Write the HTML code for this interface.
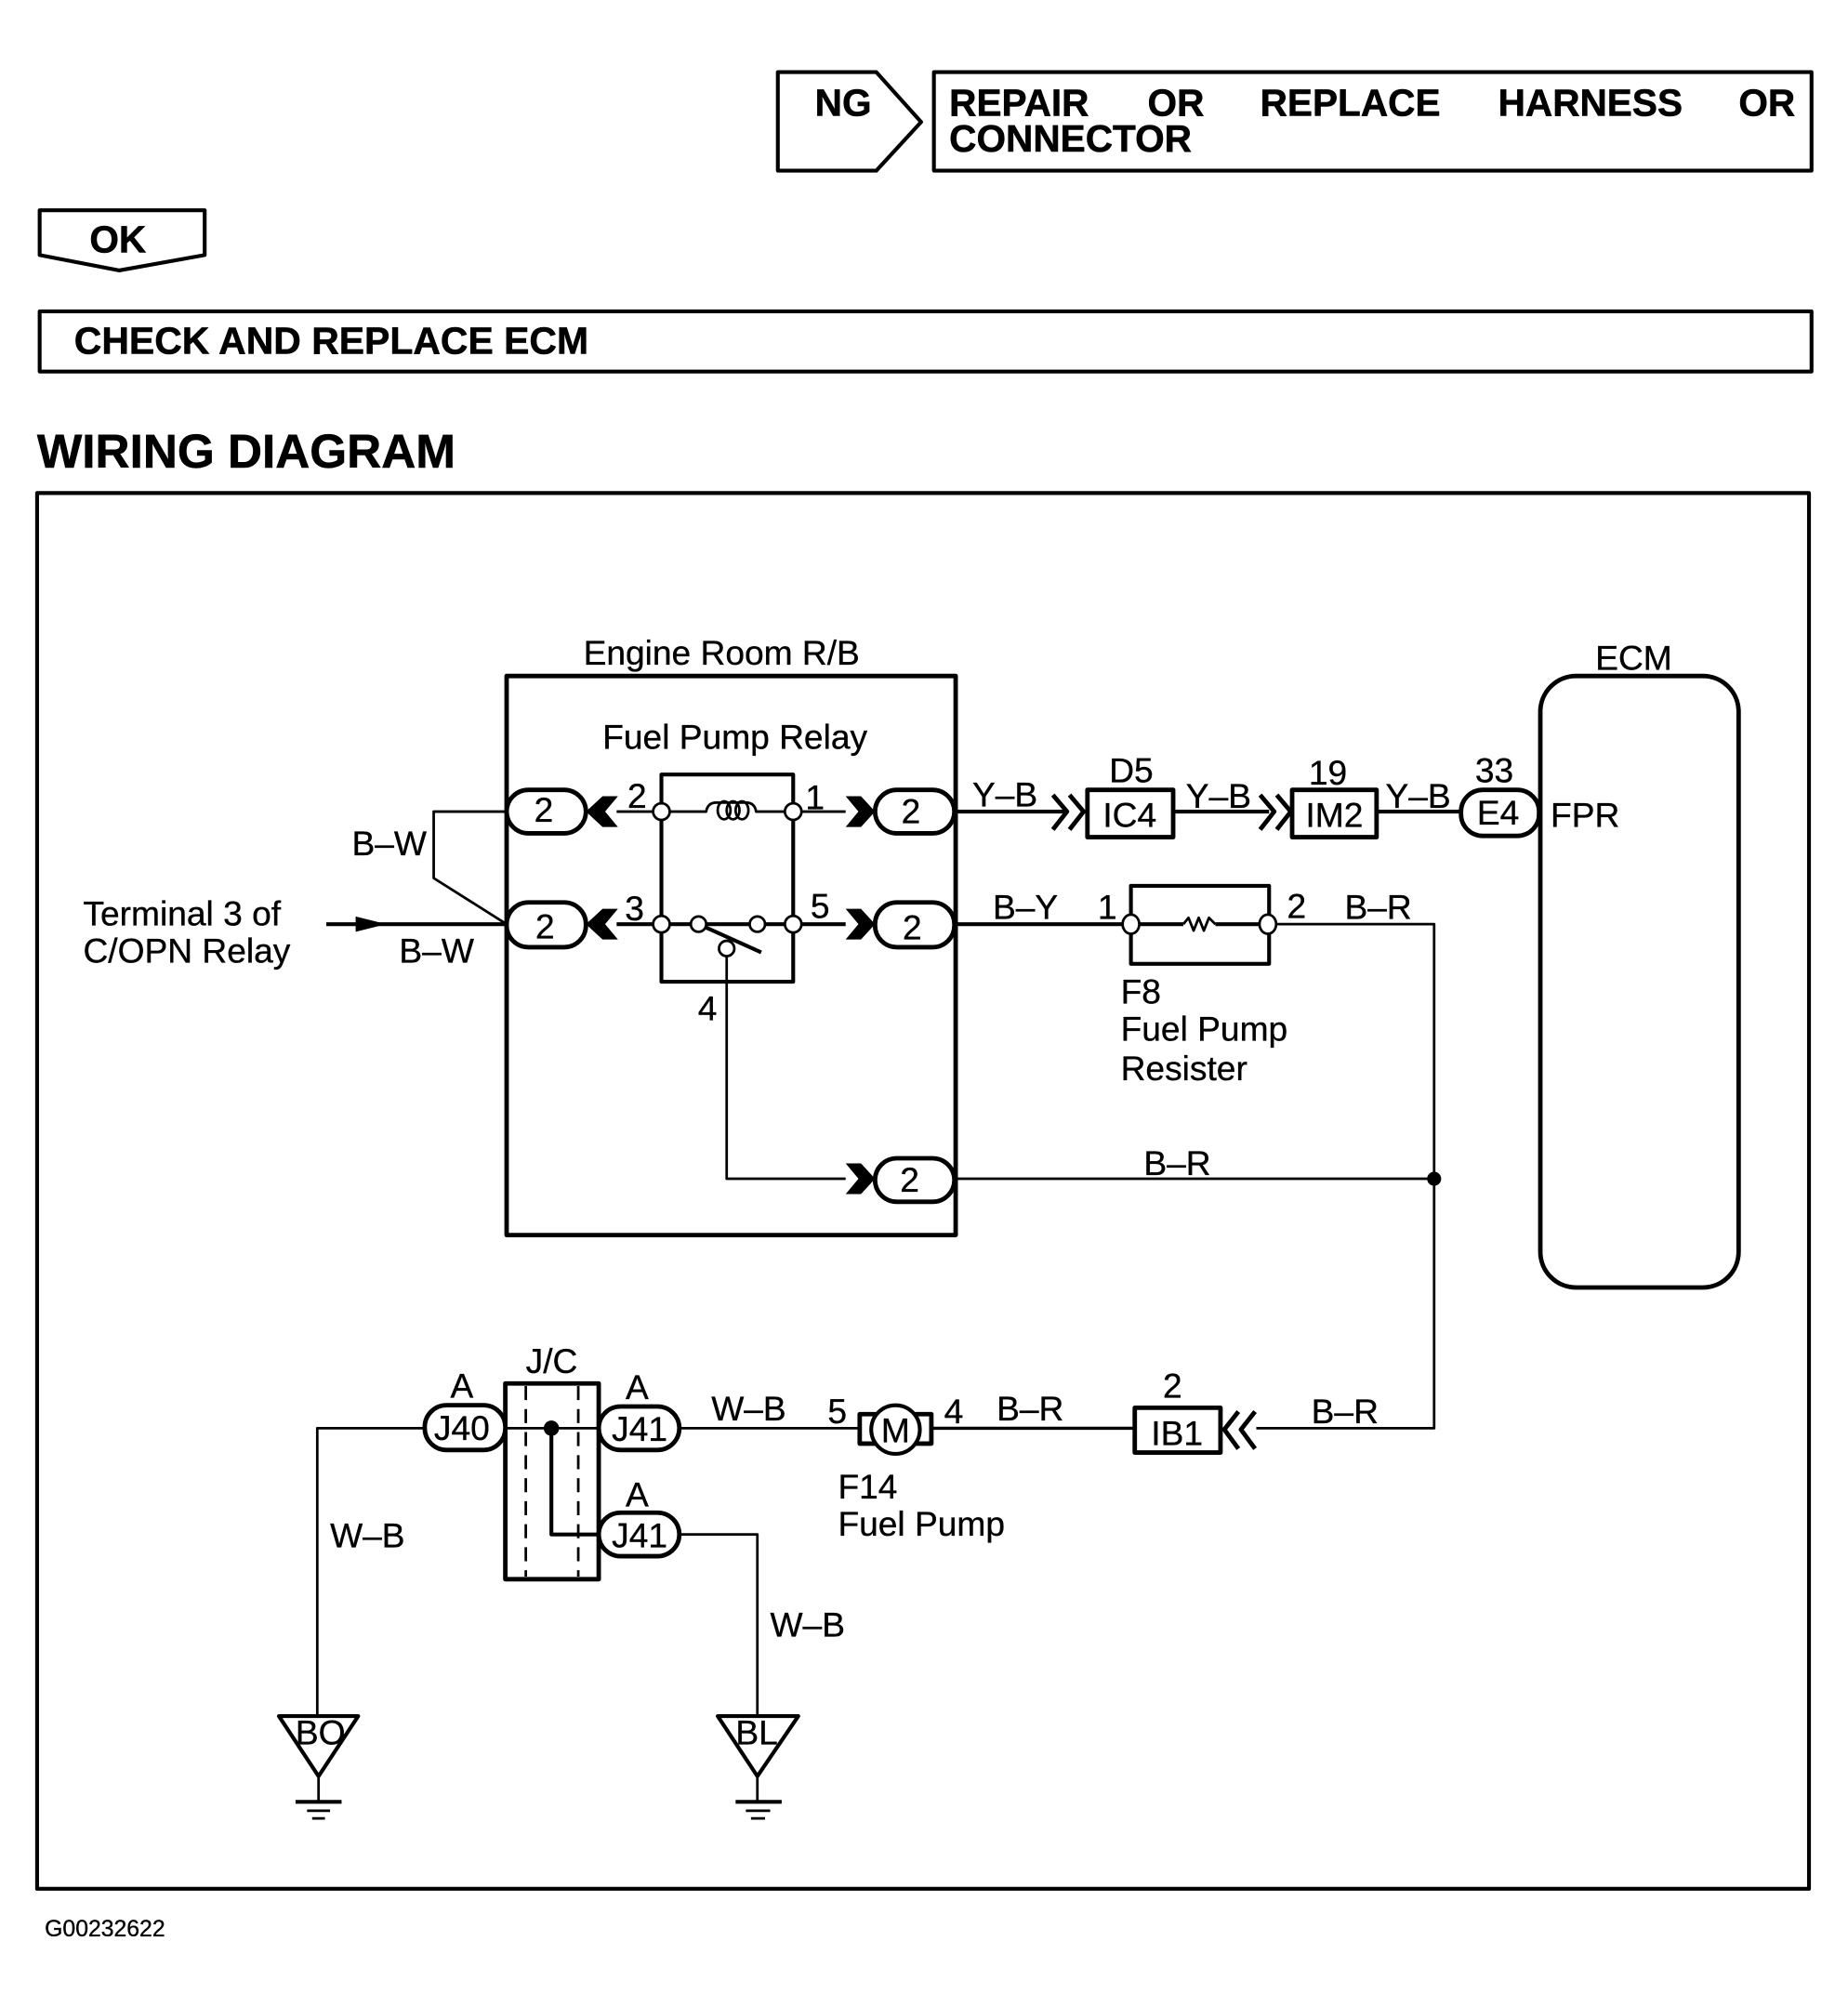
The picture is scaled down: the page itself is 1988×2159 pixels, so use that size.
<!DOCTYPE html>
<html><head><meta charset="utf-8"><style>
html,body{margin:0;padding:0;background:#fff}
svg{display:block}
text{font-family:"Liberation Sans",sans-serif;font-size:27px;fill:#000;stroke:#000;stroke-width:.25}
.b{font-weight:bold;font-size:29.5px;stroke-width:.4}
.c{text-anchor:middle}
.l{fill:none;stroke:#000;stroke-width:2;stroke-linejoin:round}
.t{fill:none;stroke:#000;stroke-width:3;stroke-linejoin:round}
.k{fill:none;stroke:#000;stroke-width:3.5;stroke-linejoin:round}
.p{fill:#fff;stroke:#000;stroke-width:3.5}
.o{fill:#fff;stroke:#000;stroke-width:2}
</style></head><body>
<svg xmlns="http://www.w3.org/2000/svg" width="1988" height="2159" viewBox="0 0 1444.5 1568">
<rect width="1447" height="1572" fill="#fff"/>
<!-- top -->
<polygon class="t" points="608,56 685,56 720,95 685,133 608,133"/>
<text class="b" x="637" y="90">NG</text>
<rect class="t" x="730" y="56" width="686" height="77"/>
<text class="b" x="742" y="90">REPAIR</text>
<text class="b" x="897" y="90">OR</text>
<text class="b" x="985" y="90">REPLACE</text>
<text class="b" x="1171" y="90">HARNESS</text>
<text class="b" x="1359" y="90">OR</text>
<text class="b" x="742" y="118">CONNECTOR</text>
<polygon class="t" points="31,164 160,164 160,199 93,211 31,199"/>
<text class="b" x="70" y="197">OK</text>
<rect class="t" x="31" y="243" width="1385" height="47"/>
<text class="b" x="58" y="276" textLength="402" lengthAdjust="spacingAndGlyphs">CHECK AND REPLACE ECM</text>
<text class="b" x="29" y="365" style="font-size:37px" textLength="327" lengthAdjust="spacingAndGlyphs">WIRING DIAGRAM</text>
<rect class="t" x="29" y="385" width="1385" height="1091"/>
<!-- Engine room -->
<text x="456" y="519">Engine Room R/B</text>
<rect class="k" x="396" y="528" width="351" height="437"/>
<text x="471" y="585">Fuel Pump Relay</text>
<rect class="t" x="517" y="605" width="103" height="162"/>
<!-- B-W -->
<path class="l" d="M396,634H339V686L396,722"/>
<path class="t" d="M255,722H396"/>
<polygon points="278,716 302,722 278,728" fill="#000"/>
<text x="275" y="668">B–W</text>
<text x="312" y="752">B–W</text>
<text x="65" y="723">Terminal 3 of</text>
<text x="65" y="752">C/OPN Relay</text>
<!-- relay wiring -->
<path class="l" d="M482,634H552Q553,627 560,627H583Q590,627 591,634H661"/>
<g class="l"><ellipse cx="566" cy="633" rx="5" ry="7"/><ellipse cx="573" cy="633" rx="5" ry="7"/><ellipse cx="580" cy="633" rx="5" ry="7"/></g>
<path class="t" d="M482,722H541M552,722H586M598,722H661"/>
<path class="t" d="M546,722L595,744"/>
<path class="l" d="M568,741V921H661"/>
<circle class="o" cx="517" cy="634" r="6.5"/><circle class="o" cx="620" cy="634" r="6.5"/>
<circle class="o" cx="517" cy="722" r="6.5"/><circle class="o" cx="620" cy="722" r="6.5"/>
<circle class="o" cx="546" cy="722" r="6"/><circle class="o" cx="592" cy="722" r="6"/><circle class="o" cx="568" cy="741" r="6"/>
<text class="c" x="498" y="631">2</text><text class="c" x="637" y="632">1</text>
<text class="c" x="496" y="719">3</text><text class="c" x="641" y="717">5</text>
<text class="c" x="553" y="797">4</text>
<!-- arrows -->
<polygon points="458,634 471,622 483,622 473,634 483,646 471,646"/>
<polygon points="458,722 471,710 483,710 473,722 483,734 471,734"/>
<polygon points="661,622 673,622 684,634 673,646 661,646 671,634"/>
<polygon points="661,710 673,710 684,722 673,734 661,734 671,722"/>
<polygon points="661,909 673,909 684,921 673,933 661,933 671,921"/>
<!-- pills -->
<rect class="p" x="396" y="617" width="62" height="34" rx="17"/><text class="c" x="425" y="642">2</text>
<rect class="p" x="396" y="705" width="62" height="35" rx="17"/><text class="c" x="426" y="733">2</text>
<rect class="p" x="684" y="617" width="62" height="34" rx="17"/><text class="c" x="712" y="643">2</text>
<rect class="p" x="684" y="705" width="62" height="35" rx="17"/><text class="c" x="713" y="734">2</text>
<rect class="p" x="684" y="905" width="62" height="34" rx="17"/><text class="c" x="711" y="931">2</text>
<!-- top right run -->
<path class="t" d="M746,634H832M917,634H992M1076,634H1142"/>
<path class="k" d="M823,621L834,634L823,648M836,621L847,634L836,648"/>
<path class="k" d="M985,621L996,634L985,648M998,621L1009,634L998,648"/>
<rect class="k" x="850" y="617" width="67" height="37"/><text class="c" x="883" y="646">IC4</text>
<rect class="k" x="1010" y="617" width="66" height="37"/><text class="c" x="1043" y="646">IM2</text>
<rect class="p" x="1142" y="617" width="61" height="36" rx="17"/><text class="c" x="1171" y="644">E4</text>
<text x="760" y="630">Y–B</text><text x="927" y="631">Y–B</text><text x="1083" y="631">Y–B</text>
<text x="867" y="611">D5</text><text x="1023" y="613">19</text><text x="1153" y="611">33</text>
<text x="1212" y="646">FPR</text>
<text x="1247" y="523">ECM</text>
<rect class="k" x="1204" y="528" width="155" height="478" rx="28"/>
<!-- B-Y -->
<path class="t" d="M746,722H925"/>
<path class="t" d="M950,722H985"/>
<path class="l" d="M925,722L929,717L933,727L937,717L941,727L945,717L950,722"/>
<path class="l" d="M992,722H1121V1116H982"/>
<rect class="t" x="884" y="692" width="108" height="61"/>
<ellipse class="o" cx="884" cy="722" rx="6.5" ry="7.5"/><ellipse class="o" cx="991" cy="722" rx="6.5" ry="7.5"/>
<text x="776" y="718">B–Y</text><text x="858" y="718">1</text><text x="1006" y="717">2</text><text x="1051" y="718">B–R</text>
<text x="876" y="784">F8</text><text x="876" y="813">Fuel Pump</text><text x="876" y="844">Resister</text>
<path class="l" d="M746,921H1121"/><circle cx="1121" cy="921" r="5.5"/>
<text x="894" y="918">B–R</text>
<!-- lower run -->
<rect class="k" x="887" y="1100" width="67" height="35"/><text class="c" x="920" y="1129">IB1</text>
<path class="k" d="M968,1103L957,1117L968,1132M981,1103L970,1117L981,1132"/>
<text x="909" y="1092">2</text><text x="1025" y="1112">B–R</text><text x="779" y="1110">B–R</text>
<text x="738" y="1112">4</text><text x="647" y="1112">5</text><text x="556" y="1110">W–B</text>
<path class="l" d="M728,1116H887" style="stroke-width:2.5"/>
<path class="l" d="M531,1116H672"/>
<rect class="k" x="672" y="1105" width="56" height="23"/>
<circle class="p" cx="700" cy="1117" r="19" style="stroke-width:3"/><text class="c" x="700" y="1127">M</text>
<text x="655" y="1171">F14</text><text x="655" y="1200">Fuel Pump</text>
<!-- J/C -->
<rect class="k" x="395" y="1081" width="73" height="153"/>
<path class="l" d="M411,1083V1232M452,1083V1232" stroke-dasharray="11 7"/>
<text x="411" y="1073">J/C</text>
<path class="l" d="M395,1116H468"/>
<path class="t" d="M431,1116V1199H468"/>
<circle cx="431" cy="1116" r="6"/>
<rect class="p" x="332" y="1098" width="63" height="35" rx="17"/><text class="c" x="361" y="1125">J40</text>
<rect class="p" x="468" y="1099" width="63" height="34" rx="17"/><text class="c" x="500" y="1126">J41</text>
<rect class="p" x="468" y="1182" width="63" height="34" rx="17"/><text class="c" x="500" y="1209">J41</text>
<text x="352" y="1092">A</text><text x="489" y="1093">A</text><text x="489" y="1177">A</text>
<path class="l" d="M332,1116H248V1341"/>
<path class="l" d="M531,1199H592V1341"/>
<text x="258" y="1209">W–B</text><text x="602" y="1279">W–B</text>
<!-- grounds -->
<polygon class="t" points="218,1341 280,1341 249,1388"/>
<text x="231" y="1363">BO</text>
<path class="l" d="M249,1388V1408"/><path class="t" d="M231,1408H267"/><path class="l" d="M240,1415H258M244,1421H254"/>
<polygon class="t" points="561,1341 624,1341 592,1388"/>
<text x="575" y="1363">BL</text>
<path class="l" d="M592,1388V1408"/><path class="t" d="M575,1408H611"/><path class="l" d="M583,1415H602M587,1421H598"/>
<text x="35" y="1513" style="font-size:18px">G00232622</text>
</svg>
</body></html>
